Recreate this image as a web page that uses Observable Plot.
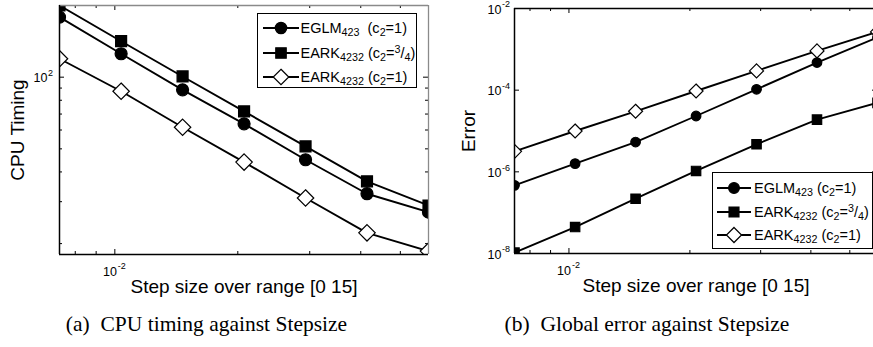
<!DOCTYPE html>
<html><head><meta charset="utf-8">
<script src="https://cdn.jsdelivr.net/npm/d3@7"></script>
<script src="https://cdn.jsdelivr.net/npm/@observablehq/plot@0.6"></script>
<style>
html,body{margin:0;padding:0;background:#fff;overflow:hidden;width:873px;height:347px;}
#wrap{position:relative;width:873px;height:347px;overflow:hidden;font-family:"Liberation Sans",Arial,sans-serif;}
.panel{position:absolute;top:0;}
.legend{position:absolute;border:1.5px solid #000;background:#fff;box-sizing:border-box;font-size:14.5px;color:#000;}
.row{position:absolute;left:0;height:20px;display:flex;align-items:center;white-space:pre;}
.row svg{flex:none;}
.caption{position:absolute;font-family:"Liberation Serif","Times New Roman",serif;font-size:21.5px;white-space:pre;transform:translateX(-50%);line-height:1;}
.legend sub,.legend sup{font-size:0.74em;line-height:0;}
.legend sub{vertical-align:-0.3em;}
.legend sup{vertical-align:0.5em;}
</style></head><body><div id="wrap"></div>
<script>
// ---- data ----
const stepSize = [0.00732, 0.01036, 0.01465, 0.02072, 0.0293, 0.04143, 0.0586];
const seriesNames = ["EGLM423 (c2=1)", "EARK4232 (c2=3/4)", "EARK4232 (c2=1)"];
const cpuEGLM   = [178.7, 125.4, 88.5, 63.7, 45.0, 32.4, 27.1];
const cpuEARK34 = [200, 141.6, 100.7, 71.8, 51.2, 36.5, 28.9];
const cpuEARK1  = [119.5, 87.3, 61.6, 44.0, 31.1, 22.2, 18.6];
const errEGLM   = [4.67e-7, 1.59e-6, 5.37e-6, 2.33e-5, 1.05e-4, 4.75e-4, 1.96e-3];
const errEARK34 = [1.05e-8, 4.44e-8, 2.2e-7, 1.05e-6, 4.72e-6, 1.90e-5, 4.89e-5];
const errEARK1  = [3.18e-6, 1.0e-5, 3.04e-5, 9.55e-5, 2.96e-4, 9.14e-4, 2.67e-3];
const xDomain = [0.00732, 0.0586];
const cpuDomain = [18, 200];
const errDomain = [1e-8, 1e-2];
const xMajorTicks = [0.01];
const xMajorExp = ["-2"];
const xMinorTicks = [0.008, 0.009, 0.02, 0.03, 0.04, 0.05];
const cpuMajorTicks = [100];
const cpuMajorExp = ["2"];
const cpuMinorTicks = [20, 30, 40, 50, 60, 70, 80, 90, 200];
const errMajorTicks = [1e-8, 1e-6, 1e-4, 1e-2];
const errMajorExp = ["-8", "-6", "-4", "-2"];
const errMinorTicks = [];
const xLabel = "Step size over range [0 15]";
const captions = ["(a)  CPU timing against Stepsize", "(b)  Global error against Stepsize"];

function rowsOf(ys) { return stepSize.map((x, i) => ({x, y: ys[i]})); }

function panel(cfg) {
  const {width, height, ml, mr, mt, mb, yDomain, series, yMajor, yExp, yMinor, yLabel, yLabelDx, yTickDx, sizes, edgeColor} = cfg;
  const innerW = width - ml - mr, innerH = height - mt - mb;
  const majLen = 5, minLen = 3;
  const marks = [];
  const tx = (data, len) => [
    Plot.tickX(data, {x: d => d, insetTop: innerH - len, stroke: "#000", strokeWidth: 1}),
    Plot.tickX(data, {x: d => d, insetBottom: innerH - len, stroke: "#000", strokeWidth: 1})
  ];
  const ty = (data, len) => [
    Plot.tickY(data, {y: d => d, insetRight: innerW - len, stroke: "#000", strokeWidth: 1}),
    Plot.tickY(data, {y: d => d, insetLeft: innerW - len, stroke: "#000", strokeWidth: 1})
  ];
  marks.push(...tx(xMajorTicks, majLen), ...tx(xMinorTicks, minLen), ...ty(yMajor, majLen), ...ty(yMinor, minLen));
  const styles = [
    {symbol: "circle", fill: "#000", r: sizes[0]},
    {symbol: "square", fill: "#000", r: sizes[1]},
    {symbol: "diamond2", fill: "#fff", r: sizes[2]}
  ];
  series.forEach((ys) => {
    marks.push(Plot.line(rowsOf(ys), {x: "x", y: "y", stroke: "#000", strokeWidth: 1.9, clip: true}));
  });
  series.forEach((ys, i) => {
    const s = styles[i];
    marks.push(Plot.dot(rowsOf(ys), {x: "x", y: "y", symbol: s.symbol, fill: s.fill, stroke: "#000", strokeWidth: 1.2, r: s.r, clip: true}));
  });
  marks.push(Plot.ruleY([yDomain[1]], {stroke: edgeColor, strokeWidth: 1.3}));
  marks.push(Plot.ruleX([xDomain[1]], {stroke: edgeColor, strokeWidth: 1.3}));
  marks.push(Plot.ruleX([xDomain[0]], {stroke: "#000", strokeWidth: 1.5}));
  marks.push(Plot.ruleY([yDomain[0]], {stroke: "#000", strokeWidth: 1.5}));
  marks.push(Plot.text(xMajorTicks, {x: d => d, frameAnchor: "bottom", text: () => "10", textAnchor: "end", lineAnchor: "bottom", dx: 2, dy: 21, fontSize: 12.5}));
  marks.push(Plot.text(xMajorTicks, {x: d => d, frameAnchor: "bottom", text: (d, i) => xMajorExp[i], textAnchor: "start", lineAnchor: "bottom", dx: 3, dy: 14, fontSize: 9}));
  marks.push(Plot.text(yMajor, {y: d => d, frameAnchor: "left", text: () => "10", textAnchor: "end", lineAnchor: "middle", dx: yTickDx, dy: 1, fontSize: 12.5}));
  marks.push(Plot.text(yMajor, {y: d => d, frameAnchor: "left", text: (d, i) => yExp[i], textAnchor: "start", lineAnchor: "middle", dx: yTickDx + 0.5, dy: -4, fontSize: 9}));
  marks.push(Plot.text([xLabel], {frameAnchor: "bottom", text: d => d, textAnchor: "middle", lineAnchor: "bottom", dy: 38, fontSize: 19}));
  marks.push(Plot.text([yLabel], {frameAnchor: "left", text: d => d, rotate: -90, textAnchor: "middle", lineAnchor: "middle", dx: yLabelDx, fontSize: 19}));
  return Plot.plot({
    width, height, marginLeft: ml, marginRight: mr, marginTop: mt, marginBottom: mb,
    x: {type: "log", domain: xDomain, axis: null},
    y: {type: "log", domain: yDomain, axis: null},
    style: {fontFamily: "'Liberation Sans', Arial, sans-serif", background: "transparent", color: "#000", overflow: "visible"},
    marks
  });
}

const wrap = document.getElementById("wrap");

const left = panel({width: 440, height: 300, ml: 59, mr: 12, mt: 5, mb: 46,
  yDomain: cpuDomain, series: [cpuEGLM, cpuEARK34, cpuEARK1],
  yMajor: cpuMajorTicks, yExp: cpuMajorExp, yMinor: cpuMinorTicks,
  yLabel: "CPU Timing", yLabelDx: -42, yTickDx: -12, sizes: [6, 6.2, 7.4], edgeColor: "#8a8a8a"});
left.classList.add("panel"); left.style.left = "0px";
wrap.appendChild(left);

const right = panel({width: 440, height: 300, ml: 74, mr: 3, mt: 8, mb: 47,
  yDomain: errDomain, series: [errEGLM, errEARK34, errEARK1],
  yMajor: errMajorTicks, yExp: errMajorExp, yMinor: errMinorTicks,
  yLabel: "Error", yLabelDx: -46, yTickDx: -13, sizes: [4.8, 5.3, 6.3], edgeColor: "#000"});
right.classList.add("panel"); right.style.left = "440px";
wrap.appendChild(right);

const legendLabels = [
  ["EGLM<sub>423</sub>  (c<sub>2</sub>=1)", "EARK<sub>4232</sub> (c<sub>2</sub>=<sup>3</sup>/<sub>4</sub>)", "EARK<sub>4232</sub> (c<sub>2</sub>=1)"],
  ["EGLM<sub>423</sub> (c<sub>2</sub>=1)", "EARK<sub>4232</sub> (c<sub>2</sub>=<sup>3</sup>/<sub>4</sub>)", "EARK<sub>4232</sub> (c<sub>2</sub>=1)"]
];
const symTypes = [d3.symbolCircle, d3.symbolSquare, d3.symbolDiamond2];
const symFill = ["#000", "#000", "#fff"];
function legend(box, labels, rowsY, sw, sizes) {
  const div = document.createElement("div");
  div.className = "legend";
  Object.assign(div.style, {left: box[0] + "px", top: box[1] + "px", width: box[2] + "px", height: box[3] + "px"});
  labels.forEach((lab, i) => {
    const row = document.createElement("div");
    row.className = "row";
    row.style.top = (rowsY[i] - 10) + "px";
    row.style.left = sw.x + "px";
    const s = d3.create("svg").attr("width", sw.w).attr("height", 20);
    s.append("line").attr("x1", 0).attr("x2", sw.w).attr("y1", 10).attr("y2", 10).attr("stroke", "#000").attr("stroke-width", 1.9);
    s.append("path").attr("transform", `translate(${sw.w / 2},10)`)
      .attr("d", d3.symbol(symTypes[i], Math.PI * sizes[i] * sizes[i])())
      .attr("fill", symFill[i]).attr("stroke", "#000").attr("stroke-width", 1.2);
    row.appendChild(s.node());
    const t = document.createElement("span");
    t.innerHTML = lab;
    t.style.marginLeft = sw.gap + "px";
    row.appendChild(t);
    div.appendChild(row);
  });
  wrap.appendChild(div);
}
legend([256.5, 12.5, 160.5, 75.5], legendLabels[0], [14, 39, 63.3], {x: 5, w: 36, gap: 2}, [5.7, 5.9, 7]);
legend([711.5, 172, 161, 76.5], legendLabels[1], [15, 38.5, 62], {x: 4.5, w: 34, gap: 3}, [5.4, 5.6, 6.8]);

[[206.5, captions[0]], [647, captions[1]]].forEach(([cx, txt]) => {
  const c = document.createElement("div");
  c.className = "caption";
  c.textContent = txt;
  c.style.left = cx + "px";
  c.style.top = "314px";
  wrap.appendChild(c);
});
</script></body></html>
